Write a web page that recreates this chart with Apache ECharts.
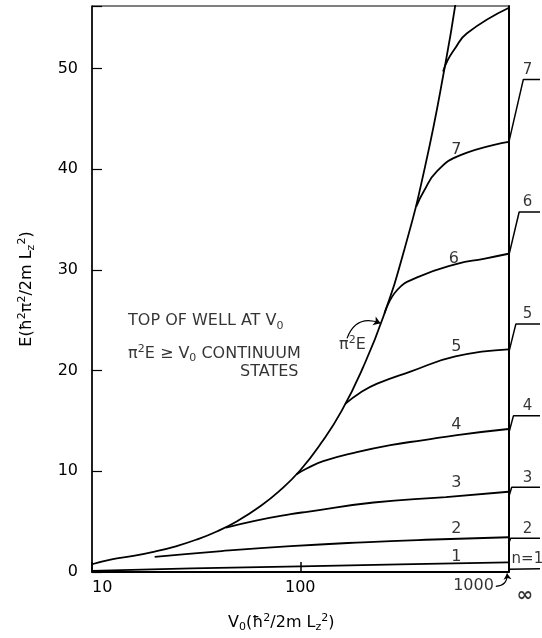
<!DOCTYPE html>
<html>
<head>
<meta charset="utf-8">
<script src="https://cdn.jsdelivr.net/npm/echarts@6/dist/echarts.min.js"></script>
<style>
  html, body { margin: 0; padding: 0; background: #fff; }
  #chart { width: 542px; height: 638px; }
</style>
</head>
<body>
<div id="chart"></div>
<script>
// top of the well, pi^2 E = V0
var wellTop = [[10, 0.77], [12.6, 1.28], [15.8, 1.6], [20, 2.03], [25, 2.53], [31.6, 3.2], [40, 4.05], [50, 5.07], [63, 6.4], [79, 8.0], [100, 10.1], [126, 12.8], [158, 16.0], [200, 20.3], [251, 25.4], [316, 32.0], [398, 40.3], [500, 50.7], [560, 56.8]];
// bound levels, [V0, E]
var level1 = [[10, 0.12], [30, 0.35], [100, 0.56], [300, 0.76], [1000, 0.96]];
var level2 = [[20, 1.5], [41.9, 2.08], [90, 2.57], [200, 2.95], [400, 3.2], [1000, 3.45]];
var level3 = [[44, 4.4], [60.5, 5.08], [90, 5.74], [110, 6.0], [225, 6.9], [500, 7.44], [1000, 7.97]];
var level4 = [[96, 9.7], [108, 10.3], [129, 11.0], [187, 11.9], [271, 12.6], [392, 13.1], [566, 13.6], [1000, 14.2]];
var level5 = [[164.5, 16.7], [194, 17.8], [234, 18.7], [338, 19.9], [556, 21.4], [1000, 22.1]];
var level6 = [[254, 25.7], [292, 28.0], [364, 29.25], [566, 30.6], [760, 31.1], [1000, 31.6]];
var level7 = [[361, 36.3], [392, 37.8], [454, 39.8], [588, 41.4], [1000, 42.7]];
var level8 = [[485, 49.7], [510, 50.8], [550, 51.9], [632, 53.5], [1000, 56.0]];
var levels = [level1, level2, level3, level4, level5, level6, level7, level8];

// V0 -> infinity limits (n^2)
var infLimit = [1, 4, 9, 16, 25, 36, 49];
var infText = ['n=1', '2', '3', '4', '5', '6', '7'];

// curve number tags
var tagV = [561, 561, 561, 561, 561, 546, 561];
var tagE = [1.55, 4.27, 8.85, 14.64, 22.4, 31.1, 41.9];
var tagText = ['1', '2', '3', '4', '5', '6', '7'];

var yTicks = [0, 10, 20, 30, 40, 50];

var FONT = 'DejaVu Sans';
var rich = {
  sub: { fontSize: 11, lineHeight: 10, verticalAlign: 'bottom', fontFamily: FONT, color: '#000' },
  sup: { fontSize: 11, lineHeight: 10, verticalAlign: 'top', fontFamily: FONT, color: '#000' }
};

var chart = echarts.init(document.getElementById('chart'), null, { renderer: 'canvas' });

var lineStyle = { color: '#000', width: 1.8 };
var series = [];

series.push({
  type: 'line', data: wellTop, showSymbol: false, smooth: 0.5,
  lineStyle: lineStyle, silent: true
});
levels.forEach(function (lv) {
  series.push({
    type: 'line', data: lv, showSymbol: false, smooth: 0.5,
    lineStyle: lineStyle, silent: true
  });
});

// jumps to the infinite-well values on the right
infLimit.forEach(function (lim, i) {
  var last = levels[i][levels[i].length - 1][1];
  var bend = 0.03 + 0.07 * (lim - last);
  series.push({
    type: 'line', xAxisIndex: 1, yAxisIndex: 2, showSymbol: false,
    data: [[0, last], [bend, lim], [1, lim]],
    lineStyle: { color: '#000', width: 1.5 }, silent: true
  });
});

// stub labels
series.push({
  type: 'scatter', xAxisIndex: 1, yAxisIndex: 2, symbolSize: 0, clip: false, silent: true,
  data: infLimit.map(function (lim, i) { return { value: [0.6, lim], name: infText[i] }; }),
  label: { show: true, position: 'top', distance: 2, formatter: '{b}', color: '#000', fontSize: 15, fontFamily: FONT }
});
series.push({
  type: 'scatter', xAxisIndex: 1, yAxisIndex: 2, symbolSize: 0, clip: false, silent: true,
  data: [{ value: [0.52, -1.6], name: '∞' }],
  label: { show: true, position: 'inside', formatter: '{b}', color: '#000', fontSize: 20, fontWeight: 'bold', fontFamily: FONT }
});

// curve tags
series.push({
  type: 'scatter', symbolSize: 0, clip: false, silent: true,
  data: tagText.map(function (t, i) { return { value: [tagV[i], tagE[i]], name: t }; }),
  label: { show: true, position: 'inside', formatter: '{b}', color: '#000', fontSize: 16, fontFamily: FONT }
});

// annotations
series.push({
  type: 'scatter', symbolSize: 0, clip: false, silent: true,
  data: [
    { value: [14.9, 24.9], name: 'TOP OF WELL AT V{sub|0}' },
    { value: [14.9, 21.7], name: 'π{sup|2}E ≥ V{sub|0} CONTINUUM' }
  ],
  label: { show: true, position: 'right', distance: 0, formatter: '{b}', color: '#000', fontSize: 16, lineHeight: 20, fontFamily: FONT, rich: rich }
});
series.push({
  type: 'scatter', symbolSize: 0, clip: false, silent: true,
  data: [{ value: [98, 19.9], name: 'STATES' }],
  label: { show: true, position: 'left', distance: 0, formatter: '{b}', color: '#000', fontSize: 16, fontFamily: FONT }
});
series.push({
  type: 'scatter', symbolSize: 0, clip: false, silent: true,
  data: [{ value: [178, 22.6], name: 'π{sup|2}E' }, { value: [679, -1.42], name: '1000' }],
  label: { show: true, position: 'inside', formatter: '{b}', color: '#000', fontSize: 16, lineHeight: 20, fontFamily: FONT, rich: rich }
});

// curved arrows
series.push({
  type: 'lines', coordinateSystem: 'cartesian2d', clip: false, silent: true,
  symbol: ['none', 'arrow'], symbolSize: 7,
  lineStyle: { color: '#000', width: 1.2, opacity: 1, curveness: 0.5 },
  data: [{ coords: [[167.7, 23.2], [243, 24.7]] }]
});
series.push({
  type: 'lines', coordinateSystem: 'cartesian2d', clip: false, silent: true,
  symbol: ['none', 'arrow'], symbolSize: 6,
  lineStyle: { color: '#000', width: 1.2, opacity: 1, curveness: -0.5 },
  data: [{ coords: [[869, -1.42], [985, -0.15]] }]
});

var option = {
  animation: false,
  backgroundColor: '#fff',
  grid: [
    { left: 92, right: 33.5, top: 6, bottom: 59, show: true, borderColor: '#000', borderWidth: 1 },
    { left: 508.5, right: 2, top: 6, bottom: 59 }
  ],
  xAxis: [
    {
      gridIndex: 0, type: 'log', logBase: 10, min: 10, max: 1000,
      axisLine: { lineStyle: { color: '#000', width: 2 } },
      axisTick: { inside: true, length: 10, lineStyle: { color: '#000', width: 1.5 } },
      axisLabel: { color: '#000', fontSize: 16, fontFamily: FONT, margin: 8, alignMinLabel: 'left', showMaxLabel: false },
      splitLine: { show: false },
      name: 'V{sub|0}(ħ{sup|2}/2m L{sub|z}{sup|2})',
      nameLocation: 'middle', nameGap: 41,
      nameTextStyle: { color: '#000', fontSize: 16, lineHeight: 20, fontFamily: FONT, padding: [0, 38, 0, 0], rich: rich }
    },
    { gridIndex: 1, type: 'value', min: 0, max: 1, show: false }
  ],
  yAxis: [
    {
      gridIndex: 0, type: 'value', min: 0, max: 56.2, interval: 10,
      axisLine: { show: true, lineStyle: { color: '#000', width: 1.5 } },
      axisTick: { show: true, inside: true, length: 10, lineStyle: { color: '#000', width: 1.2 } },
      axisLabel: {
        color: '#000', fontSize: 16, fontFamily: FONT, margin: 14,
        formatter: function (v) { return yTicks.indexOf(v) >= 0 ? String(v) : ''; }
      },
      splitLine: { show: false },
      name: 'E(ħ{sup|2}π{sup|2}/2m L{sub|z}{sup|2})',
      nameLocation: 'middle', nameGap: 55, nameRotate: 90,
      nameTextStyle: { color: '#000', fontSize: 16, lineHeight: 20, fontFamily: FONT, rich: rich }
    },
    {
      gridIndex: 0, type: 'value', position: 'right', min: 0, max: 56.2,
      axisLine: { show: true, lineStyle: { color: '#000', width: 2 } },
      axisTick: { show: false }, axisLabel: { show: false }, splitLine: { show: false }
    },
    { gridIndex: 1, type: 'value', min: 0, max: 56.2, show: false }
  ],
  series: series
};

chart.setOption(option);
</script>
</body>
</html>
